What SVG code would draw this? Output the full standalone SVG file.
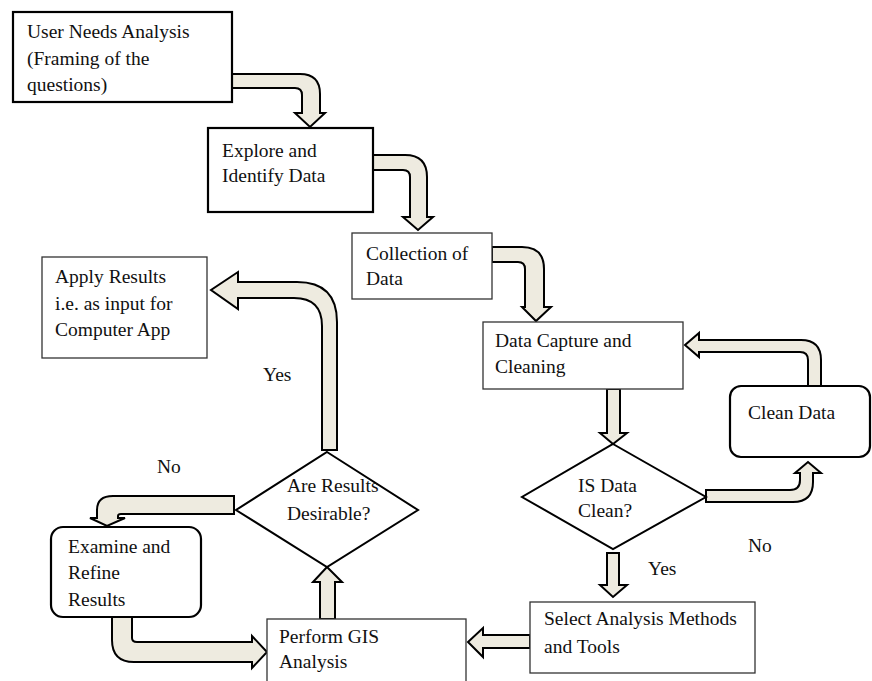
<svg xmlns="http://www.w3.org/2000/svg" width="872" height="681" viewBox="0 0 872 681" font-family="'Liberation Serif', 'Times New Roman', serif">
<style>
text{font-family:'Liberation Serif','Times New Roman',serif;font-size:19.5px;fill:#111}
.thick{fill:#fff;stroke:#000;stroke-width:2.2}
.thin{fill:#fff;stroke:#333;stroke-width:1.3}
.dia{fill:#fff;stroke:#000;stroke-width:2}
.arr{fill:#eeebe0;stroke:#000;stroke-width:2;stroke-linejoin:miter}
</style>
<rect width="872" height="681" fill="#fff"/>
<g id="connectors">
<path class="arr" d="M232,74 L300,74 Q320,74 320,94 L320,113 L325,113 L310,127 L295,113 L302,113 L302,95 Q302,88 295,88 L232,88 Z"/>
<path class="arr" d="M373,155 L405,155 Q427,155 427,177 L427,217 L433,217 L418,230 L403,217 L410,217 L410,177 Q410,170 403,170 L373,170 Z"/>
<path class="arr" d="M492,247 L522,247 Q544,247 544,269 L544,307 L551,307 L536,321 L522,307 L525,307 L525,269 Q525,262 518,262 L492,262 Z"/>
<path class="arr" d="M607,389 L620,389 L620,433 L627,433 L613,444 L600,433 L607,433 Z"/>
<path class="arr" d="M706,490 L790,490 Q800,490 800,480 L800,473 L795,473 L808,462 L821,473 L813,473 L813,482 Q813,502 793,502 L706,502 Z"/>
<path class="arr" d="M821,386 L821,360 Q821,340 801,340 L699,340 L699,333 L685,345 L699,357 L699,352 L800,352 Q808,352 808,360 L808,386 Z"/>
<path class="arr" d="M607,553 L619,553 L619,585 L627,585 L613,597 L600,585 L607,585 Z"/>
<path class="arr" d="M530,635 L483,635 L483,628 L468,642 L483,657 L483,648 L530,648 Z"/>
<path class="arr" d="M320,619 L320,582 L313,582 L327,567 L342,582 L335,582 L335,619 Z"/>
<path class="arr" d="M337,450 L337,322 Q337,282 297,282 L238,282 L238,272 L211,290 L238,309 L238,298 L294,298 Q322,298 322,326 L322,450 Z"/>
<path class="arr" d="M234,496 L113,496 Q97,496 97,510 L97,518 L90,518 L107,526 L125,518 L118,518 L118,516 Q118,514 121,514 L234,514 Z"/>
<path class="arr" d="M112,617 L132,617 L132,638 Q132,642 137,642 L252,642 L252,636 L267,652 L252,668 L252,662 L134,662 Q112,662 112,640 Z"/>
</g>
<g id="n1">
<rect class="thick" x="13" y="12" width="219" height="90"/>
<text x="27" y="38">User Needs Analysis</text>
<text x="27" y="65">(Framing of the</text>
<text x="27" y="91">questions)</text>
</g>
<g id="n2">
<rect class="thick" x="208" y="128" width="165" height="84"/>
<text x="222" y="157">Explore and</text>
<text x="222" y="182">Identify Data</text>
</g>
<g id="n3">
<rect class="thin" x="352" y="233" width="140" height="66"/>
<text x="366" y="260">Collection of</text>
<text x="366" y="285">Data</text>
</g>
<g id="n4">
<rect class="thin" x="483" y="322" width="200" height="67"/>
<text x="495" y="347">Data Capture and</text>
<text x="495" y="373">Cleaning</text>
</g>
<g id="n5">
<polygon class="dia" points="613,444 706,497 613,549 522,497"/>
<text x="578" y="492">IS Data</text>
<text x="578" y="517">Clean?</text>
</g>
<g id="n6">
<rect class="thick" x="730" y="386" width="140" height="71" rx="11"/>
<text x="748" y="419">Clean Data</text>
</g>
<g id="n7">
<rect class="thin" x="530" y="602" width="225" height="71"/>
<text x="544" y="625">Select Analysis Methods</text>
<text x="544" y="653">and Tools</text>
</g>
<g id="n8">
<rect class="thin" x="267" y="619" width="199" height="70"/>
<text x="279" y="643">Perform GIS</text>
<text x="279" y="668">Analysis</text>
</g>
<g id="n9">
<polygon class="dia" points="327,452 418,510 327,567 236,510"/>
<text x="287" y="492">Are Results</text>
<text x="287" y="520">Desirable?</text>
</g>
<g id="n10">
<rect class="thick" x="51" y="527" width="150" height="90" rx="12"/>
<text x="68" y="553">Examine and</text>
<text x="68" y="579">Refine</text>
<text x="68" y="606">Results</text>
</g>
<g id="n11">
<rect class="thin" x="42" y="257" width="165" height="101"/>
<text x="55" y="283">Apply Results</text>
<text x="55" y="310">i.e. as input for</text>
<text x="55" y="336">Computer App</text>
</g>
<g id="labels">
<text x="263" y="381">Yes</text>
<text x="157" y="473">No</text>
<text x="748" y="552">No</text>
<text x="648" y="575">Yes</text>
</g>
</svg>
